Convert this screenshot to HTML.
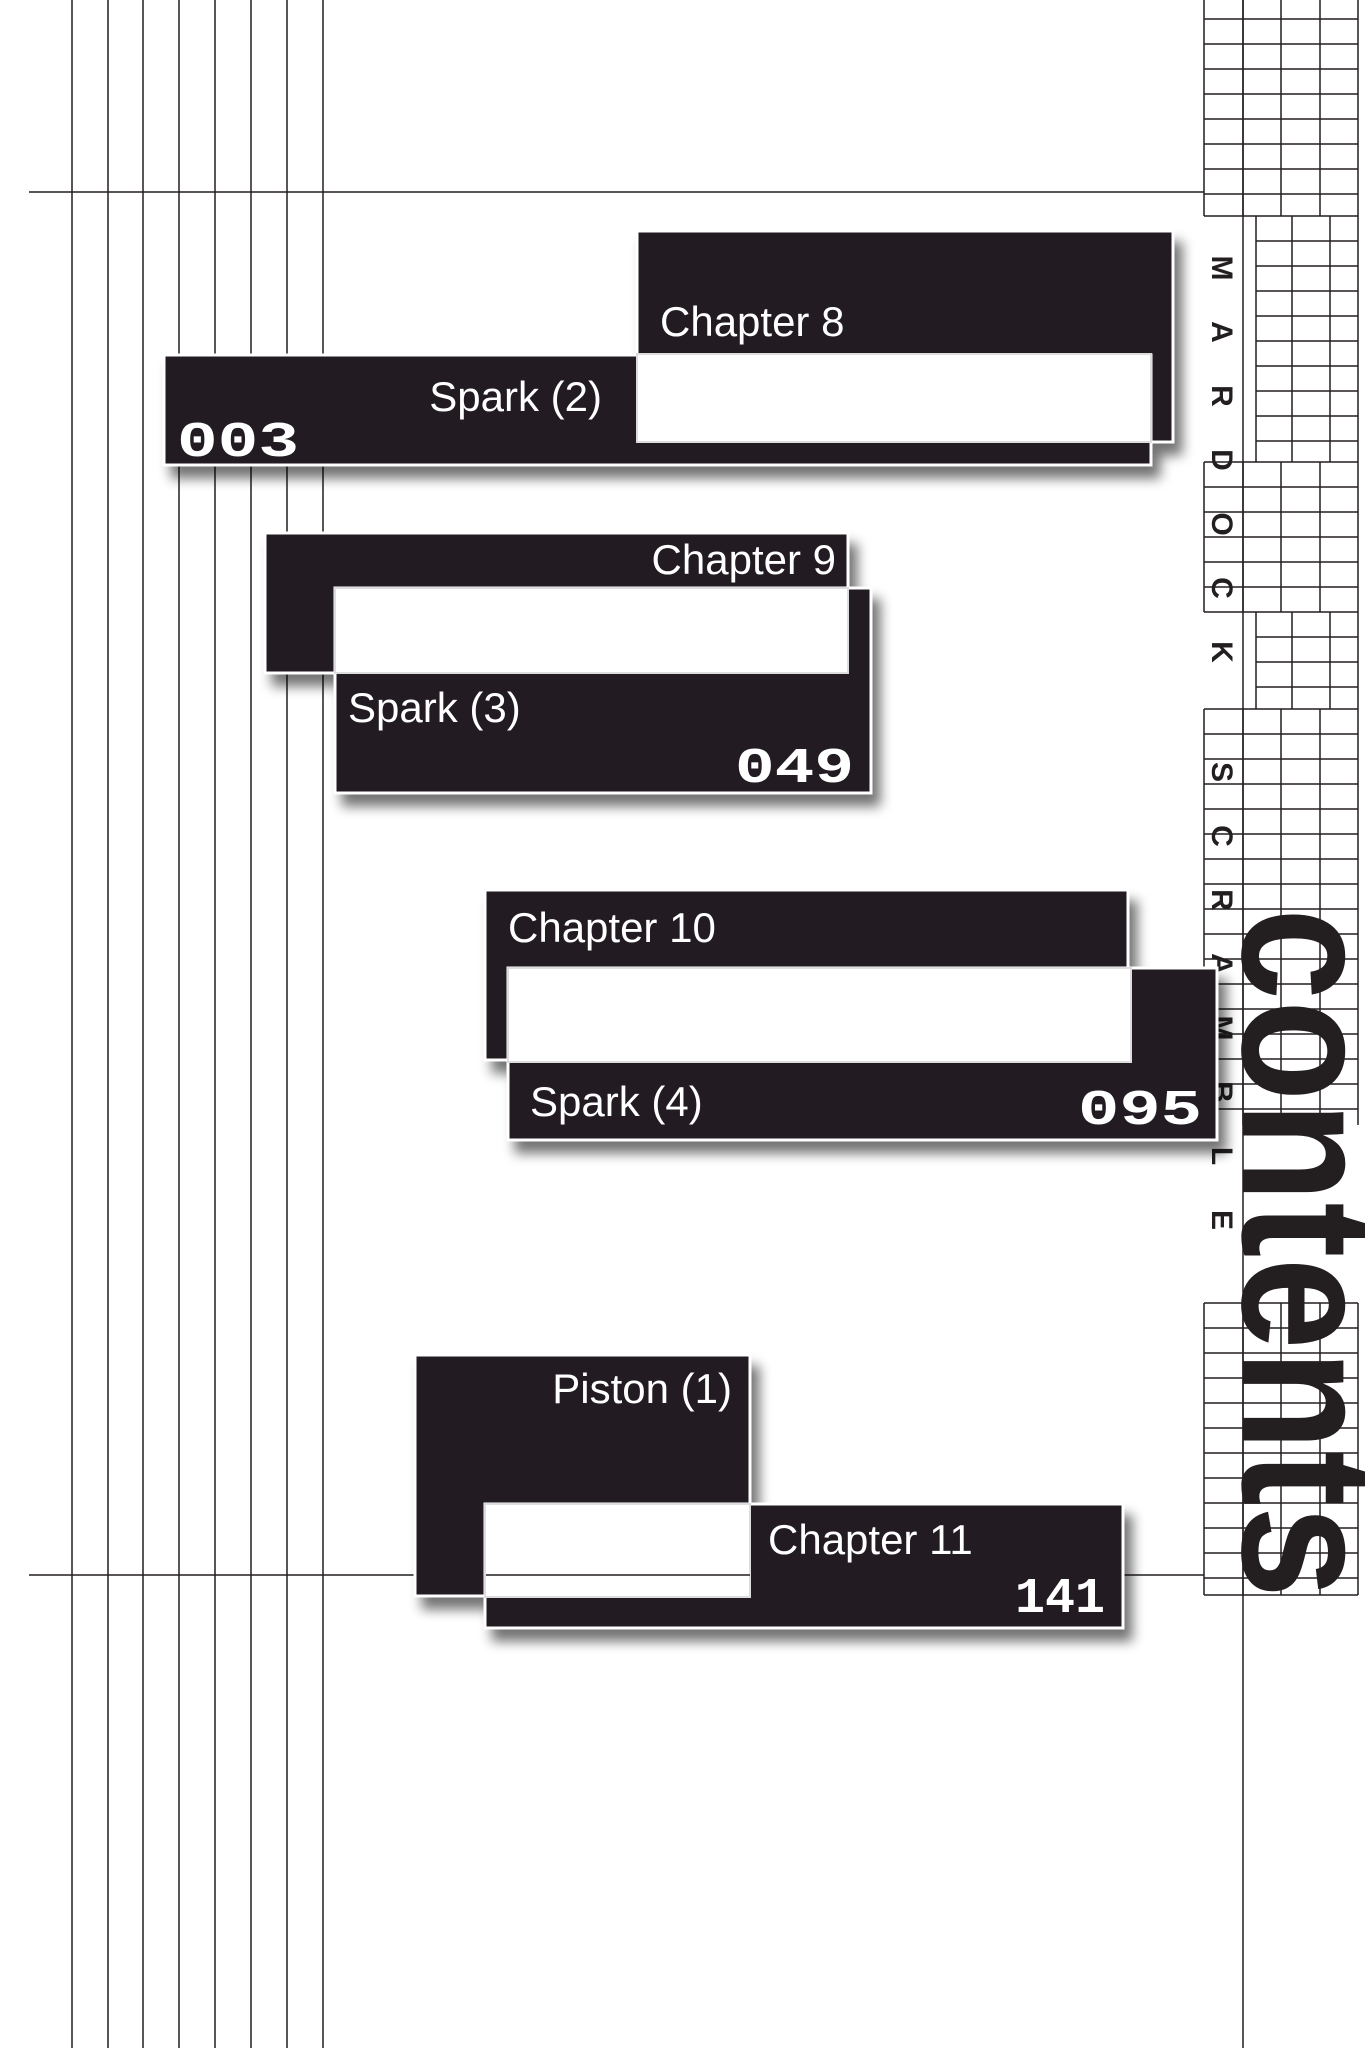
<!DOCTYPE html>
<html><head><meta charset="utf-8"><style>
html,body{margin:0;padding:0;background:#fff;}
svg{display:block;}
.lbl{font-family:"Liberation Sans Narrow","Liberation Sans",sans-serif;fill:#fff;font-size:42px;}
.num{font-family:"Liberation Mono",monospace;font-weight:bold;fill:#fff;font-size:50px;}
.mk{font-family:"Liberation Sans",sans-serif;font-weight:bold;fill:#231f20;font-size:30px;}
</style></head><body>
<svg width="1365" height="2048" viewBox="0 0 1365 2048" xmlns="http://www.w3.org/2000/svg">
<defs>
<filter id="sh" x="-10%" y="-10%" width="130%" height="140%">
<feGaussianBlur in="SourceAlpha" stdDeviation="6"/>
<feOffset dx="8" dy="12" result="o"/>
<feComponentTransfer><feFuncA type="linear" slope="0.55"/></feComponentTransfer>
<feMerge><feMergeNode/><feMergeNode in="SourceGraphic"/></feMerge>
</filter>
</defs>
<g stroke="#231f20" stroke-width="1.5">
<line x1="72" y1="0" x2="72" y2="2048"/><line x1="108" y1="0" x2="108" y2="2048"/>
<line x1="143" y1="0" x2="143" y2="2048"/><line x1="179" y1="0" x2="179" y2="2048"/>
<line x1="215" y1="0" x2="215" y2="2048"/><line x1="251" y1="0" x2="251" y2="2048"/>
<line x1="287" y1="0" x2="287" y2="2048"/><line x1="323" y1="0" x2="323" y2="2048"/>
<line x1="29" y1="192" x2="1204" y2="192"/><line x1="29" y1="1575" x2="1204" y2="1575"/>
<line x1="1243" y1="0" x2="1243" y2="2048"/>
</g>
<!-- grid -->
<g stroke="#231f20" stroke-width="1.5" fill="none">
<path d="M1204 0V216M1243 0V216M1281 0V216M1320 0V216M1358 0V216
M1204 19H1358M1204 44H1358M1204 69H1358M1204 94H1358M1204 119H1358M1204 144H1358M1204 169H1358M1204 194H1358M1204 216H1358"/>
<path d="M1256 216V462M1292 216V462M1330 216V462M1358 216V462
M1256 241H1358M1256 266H1358M1256 291H1358M1256 316H1358M1256 341H1358M1256 366H1358M1256 391H1358M1256 416H1358M1256 441H1358"/>
<path d="M1204 462V612M1243 462V612M1281 462V612M1320 462V612M1358 462V612
M1204 462H1358M1204 487H1358M1204 512H1358M1204 537H1358M1204 562H1358M1204 587H1358M1204 612H1358"/>
<path d="M1256 612V709M1292 612V709M1330 612V709M1358 612V709
M1256 637H1358M1256 662H1358M1256 687H1358"/>
<path d="M1204 709V1125M1243 709V1125M1281 709V1125M1320 709V1125M1358 709V1125
M1204 709H1358M1204 734H1358M1204 759H1358M1204 784H1358M1204 809H1358M1204 834H1358M1204 859H1358M1204 884H1358M1204 909H1358M1204 934H1358M1204 959H1358M1204 984H1358M1204 1009H1358M1204 1034H1358M1204 1059H1358M1204 1084H1358M1204 1109H1358"/>
<path d="M1204 1303V1595M1243 1303V1595M1281 1303V1595M1320 1303V1595M1358 1303V1595
M1204 1303H1358M1204 1328H1358M1204 1353H1358M1204 1378H1358M1204 1403H1358M1204 1428H1358M1204 1453H1358M1204 1478H1358M1204 1503H1358M1204 1528H1358M1204 1553H1358M1204 1578H1358M1204 1595H1358"/>
</g>
<!-- MARDOCK SCRAMBLE -->
<g>
<text class="mk" transform="translate(1212,268) rotate(90)" text-anchor="middle">M</text>
<text class="mk" transform="translate(1212,332) rotate(90)" text-anchor="middle">A</text>
<text class="mk" transform="translate(1212,396) rotate(90)" text-anchor="middle">R</text>
<text class="mk" transform="translate(1212,460) rotate(90)" text-anchor="middle">D</text>
<text class="mk" transform="translate(1212,524) rotate(90)" text-anchor="middle">O</text>
<text class="mk" transform="translate(1212,588) rotate(90)" text-anchor="middle">C</text>
<text class="mk" transform="translate(1212,652) rotate(90)" text-anchor="middle">K</text>
<text class="mk" transform="translate(1212,772) rotate(90)" text-anchor="middle">S</text>
<text class="mk" transform="translate(1212,836) rotate(90)" text-anchor="middle">C</text>
<text class="mk" transform="translate(1212,900) rotate(90)" text-anchor="middle">R</text>
<text class="mk" transform="translate(1212,964) rotate(90)" text-anchor="middle">A</text>
<text class="mk" transform="translate(1212,1028) rotate(90)" text-anchor="middle">M</text>
<text class="mk" transform="translate(1212,1092) rotate(90)" text-anchor="middle">B</text>
<text class="mk" transform="translate(1212,1156) rotate(90)" text-anchor="middle">L</text>
<text class="mk" transform="translate(1212,1220) rotate(90)" text-anchor="middle">E</text>
</g>
<text transform="translate(1243,908) rotate(90)" font-family="Liberation Sans Narrow, Liberation Sans, sans-serif" font-weight="bold" font-size="190" fill="#231f20" textLength="690" lengthAdjust="spacingAndGlyphs">contents</text>

<!-- Box 1 -->
<g filter="url(#sh)">
<rect x="637" y="231" width="536" height="211" fill="#231f20" stroke="#fff" stroke-width="3"/>
<rect x="164" y="355" width="987" height="110" fill="#231f20" stroke="#fff" stroke-width="3"/>
</g>
<rect x="637" y="354" width="514" height="88" fill="#fff" stroke="#ddd" stroke-width="2"/>
<text class="lbl" x="660" y="336">Chapter 8</text>
<text class="lbl" x="602" y="411" text-anchor="end">Spark (2)</text>
<text class="num" x="177" y="456" textLength="122" lengthAdjust="spacingAndGlyphs">003</text>

<!-- Box 2 -->
<g filter="url(#sh)">
<rect x="265" y="533" width="583" height="140" fill="#231f20" stroke="#fff" stroke-width="3"/>
<rect x="335" y="588" width="536" height="205" fill="#231f20" stroke="#fff" stroke-width="3"/>
</g>
<rect x="335" y="588" width="513" height="85" fill="#fff" stroke="#ddd" stroke-width="2"/>
<text class="lbl" x="836" y="574" text-anchor="end">Chapter 9</text>
<text class="lbl" x="348" y="722">Spark (3)</text>
<text class="num" x="735" y="782" textLength="119" lengthAdjust="spacingAndGlyphs">049</text>

<!-- Box 3 -->
<g filter="url(#sh)">
<rect x="485" y="890" width="643" height="170" fill="#231f20" stroke="#fff" stroke-width="3"/>
<rect x="508" y="968" width="709" height="172" fill="#231f20" stroke="#fff" stroke-width="3"/>
</g>
<rect x="508" y="968" width="623" height="94" fill="#fff" stroke="#ddd" stroke-width="2"/>
<text class="lbl" x="508" y="942">Chapter 10</text>
<text class="lbl" x="530" y="1116">Spark (4)</text>
<text class="num" x="1078" y="1124" textLength="124" lengthAdjust="spacingAndGlyphs">095</text>

<!-- Box 4 -->
<g filter="url(#sh)">
<rect x="415" y="1355" width="335" height="241" fill="#231f20" stroke="#fff" stroke-width="3"/>
<rect x="485" y="1504" width="638" height="124" fill="#231f20" stroke="#fff" stroke-width="3"/>
</g>
<rect x="485" y="1504" width="265" height="93" fill="#fff" stroke="#ddd" stroke-width="2"/>
<line x1="486" y1="1575" x2="750" y2="1575" stroke="#231f20" stroke-width="1.5"/>
<text class="lbl" x="732" y="1403" text-anchor="end">Piston (1)</text>
<text class="lbl" x="768" y="1554">Chapter 11</text>
<text class="num" x="1105" y="1612" text-anchor="end">141</text>
</svg>
</body></html>
